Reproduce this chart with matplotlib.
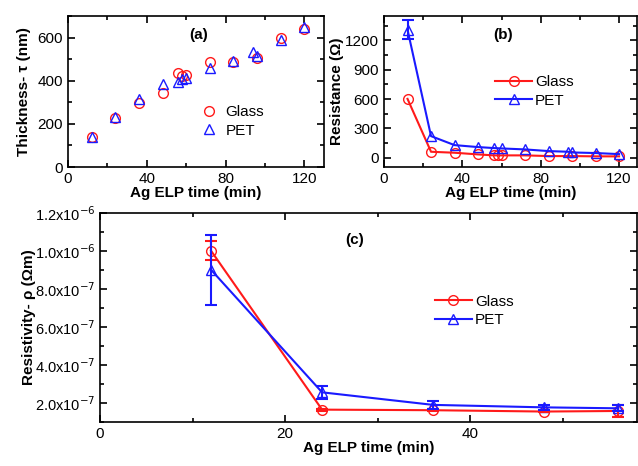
import numpy as np
import matplotlib.pyplot as plt
from matplotlib.ticker import MultipleLocator, FuncFormatter

plt.rcParams['font.family'] = ['Liberation Sans', 'DejaVu Sans']

# (a) thickness
t_glass_a = [12, 24, 36, 48, 56, 58, 60, 72, 84, 96, 108, 120]
thk_glass = [140, 228, 295, 341, 437, 422, 426, 488, 488, 504, 600, 639]
t_pet_a = [12, 24, 36, 48, 56, 58, 60, 72, 84, 94, 96, 108, 120]
thk_pet = [138, 230, 315, 383, 395, 408, 414, 460, 490, 532, 515, 589, 651]

# (b) resistance
t_glass_b = [12, 24, 36, 48, 56, 58, 60, 72, 84, 96, 108, 120]
res_glass = [602, 61, 51, 34, 24, 24, 24, 24, 17, 17, 14, 14]
t_pet_b = [12, 24, 36, 48, 56, 60, 72, 84, 94, 96, 108, 120]
res_pet = [1310, 221, 129, 109, 99, 95, 85, 68, 61, 54, 48, 37]
res_pet_err = 100  # only first point has a visible error bar

# (c) resistivity
t_c = [12, 24, 36, 48, 56]
rho_glass = [1.0e-6, 1.65e-7, 1.62e-7, 1.55e-7, 1.58e-7]
rho_glass_err = [0.05e-6, 0.05e-7, 0.05e-7, 0.05e-7, 0.3e-7]
rho_pet = [0.9e-6, 2.56e-7, 1.9e-7, 1.77e-7, 1.72e-7]
rho_pet_err = [0.185e-6, 0.35e-7, 0.2e-7, 0.15e-7, 0.15e-7]

RED = '#ff1a1a'
BLUE = '#1a1aff'
fs = 11
eb = dict(fmt='none', capsize=4, elinewidth=1.5, capthick=1.5)

fig = plt.figure(figsize=(6.38, 4.66), dpi=100)
ax_a = fig.add_axes([0.1066, 0.6416, 0.4012, 0.3241])
ax_b = fig.add_axes([0.6019, 0.6416, 0.3961, 0.3241])
ax_c = fig.add_axes([0.1567, 0.0944, 0.8413, 0.4492])


def style(ax):
    ax.tick_params(which='both', direction='in', top=True, right=True,
                   labelsize=fs, width=1.2)
    ax.tick_params(which='major', length=5)
    ax.tick_params(which='minor', length=3)
    for s in ax.spines.values():
        s.set_linewidth(1.2)


# (a)
ax_a.plot(t_glass_a, thk_glass, 'o', mfc='none', mec=RED, ms=7, mew=1.0, label='Glass')
ax_a.plot(t_pet_a, thk_pet, '^', mfc='none', mec=BLUE, ms=7, mew=1.0, label='PET')
ax_a.set_xlim(0, 130)
ax_a.set_ylim(0, 700)
ax_a.xaxis.set_major_locator(MultipleLocator(40))
ax_a.xaxis.set_minor_locator(MultipleLocator(20))
ax_a.yaxis.set_major_locator(MultipleLocator(200))
ax_a.yaxis.set_minor_locator(MultipleLocator(100))
ax_a.set_xlabel('Ag ELP time (min)', fontsize=fs, fontweight='bold', labelpad=0)
ax_a.set_ylabel('Thickness- τ (nm)', fontsize=fs, fontweight='bold', labelpad=5)
ax_a.text(0.51, 0.874, '(a)', transform=ax_a.transAxes, ha='center', va='center',
          fontsize=fs, fontweight='bold')
ax_a.legend(loc='upper left', bbox_to_anchor=(0.49, 0.46), frameon=False, fontsize=fs,
            handlelength=1.0, handletextpad=0.6, labelspacing=0.3, borderpad=0)
style(ax_a)

# (b)
ax_b.plot(t_glass_b, res_glass, '-o', color=RED, mfc='none', mec=RED, ms=7, lw=1.5, label='Glass')
ax_b.plot(t_pet_b, res_pet, '-^', color=BLUE, mfc='none', mec=BLUE, ms=7, lw=1.5, label='PET')
ax_b.errorbar(t_pet_b[:1], res_pet[:1], yerr=res_pet_err, ecolor=BLUE, **eb)
ax_b.set_xlim(0, 129)
ax_b.set_ylim(-95, 1450)
ax_b.xaxis.set_major_locator(MultipleLocator(40))
ax_b.xaxis.set_minor_locator(MultipleLocator(20))
ax_b.yaxis.set_major_locator(MultipleLocator(300))
ax_b.yaxis.set_minor_locator(MultipleLocator(150))
ax_b.set_xlabel('Ag ELP time (min)', fontsize=fs, fontweight='bold', labelpad=0)
ax_b.set_ylabel('Resistance (Ω)', fontsize=fs, fontweight='bold', labelpad=1)
ax_b.text(0.47, 0.874, '(b)', transform=ax_b.transAxes, ha='center', va='center',
          fontsize=fs, fontweight='bold')
ax_b.legend(loc='upper left', bbox_to_anchor=(0.41, 0.66), frameon=False, fontsize=fs,
            handlelength=2.4, handletextpad=0.2, labelspacing=0.3, borderpad=0)
style(ax_b)

# (c)
ax_c.plot(t_c, rho_glass, '-o', color=RED, mfc='none', mec=RED, ms=7, lw=1.5, label='Glass')
ax_c.plot(t_c, rho_pet, '-^', color=BLUE, mfc='none', mec=BLUE, ms=7, lw=1.5, label='PET')
ax_c.errorbar(t_c, rho_glass, yerr=rho_glass_err, ecolor=RED, **eb)
ax_c.errorbar(t_c, rho_pet, yerr=rho_pet_err, ecolor=BLUE, **eb)
ax_c.set_xlim(0, 58)
ax_c.set_ylim(1.0e-7, 1.2e-6)
ax_c.xaxis.set_major_locator(MultipleLocator(20))
ax_c.xaxis.set_minor_locator(MultipleLocator(10))
ax_c.yaxis.set_major_locator(MultipleLocator(2e-7))
ax_c.yaxis.set_minor_locator(MultipleLocator(1e-7))


def sci(v, pos):
    if v <= 1.5e-7:
        return ''
    m, e = f'{v:.1e}'.split('e')
    return f'{m}x10$^{{{int(e)}}}$'


ax_c.yaxis.set_major_formatter(FuncFormatter(sci))
ax_c.set_xlabel('Ag ELP time (min)', fontsize=fs, fontweight='bold', labelpad=0)
ax_c.set_ylabel('Resistivity- ρ (Ωm)', fontsize=fs, fontweight='bold', labelpad=-1)
ax_c.text(0.475, 0.87, '(c)', transform=ax_c.transAxes, ha='center', va='center',
          fontsize=fs, fontweight='bold')
ax_c.legend(loc='upper left', bbox_to_anchor=(0.61, 0.645), frameon=False, fontsize=fs,
            handlelength=2.4, handletextpad=0.2, labelspacing=0.3, borderpad=0)
style(ax_c)
for lab in ax_c.get_yticklabels():
    lab.set_fontsize(10.5)

fig.savefig('out.png', dpi=100)
